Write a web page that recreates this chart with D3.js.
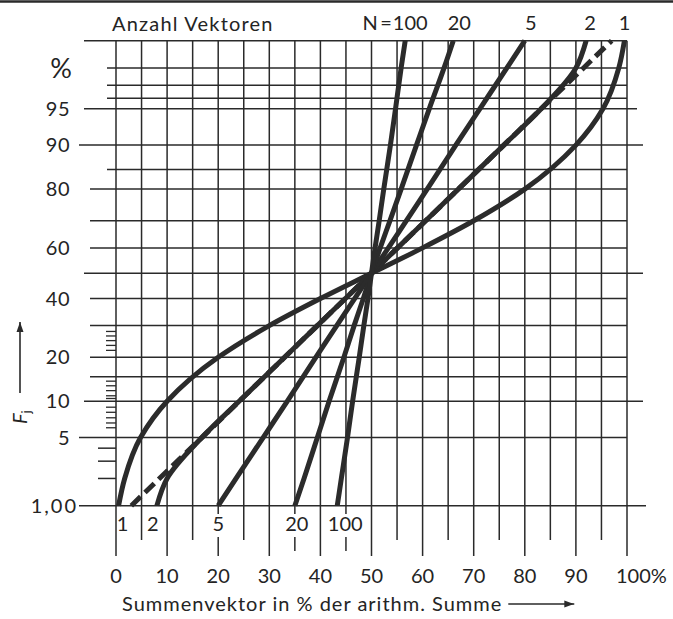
<!DOCTYPE html>
<html>
<head>
<meta charset="utf-8">
<script src="https://cdn.jsdelivr.net/npm/d3@7"></script>
<style>
  html, body { margin: 0; padding: 0; background: #ffffff; }
  svg { display: block; }
  text { font-family: Lato, "Noto Sans", "DejaVu Sans", sans-serif; fill: #242424; }
</style>
</head>
<body>
<svg id="chart" width="673" height="619"></svg>
<script>
// Cumulative frequency F_j (%) at which every curve is given
const freqLevels = [1, 2, 5, 10, 20, 30, 40, 50, 60, 70, 80, 90, 95, 98, 99];

// Summenvektor in % der arithmetischen Summe, one list per number of vectors N
const vectorCounts = ["1", "2", "5", "20", "100"];
const curveN1   = [0.5, 1.7, 4.8, 10, 20, 30, 40, 50, 60, 70, 80, 90, 95.3, 98.4, 99.5];
const curveN2   = [8, 10, 16.8, 24.1, 33, 39.4, 44.9, 50, 55.1, 60.6, 67, 75.9, 83.2, 90, 92];
const curveN5   = [20, 23.5, 28.8, 33.5, 39.1, 43.2, 46.7, 50, 53.3, 56.8, 60.9, 66.5, 71.2, 76.5, 80];
const curveN20  = [35, 36.8, 39.4, 41.7, 44.6, 46.6, 48.4, 50, 51.7, 53.6, 55.8, 58.8, 61.3, 64.2, 66];
const curveN100 = [43.3, 44.1, 45.3, 46.3, 47.6, 48.5, 49.3, 50, 50.7, 51.5, 52.4, 53.7, 54.7, 55.8, 56.6];
// straight dashed line (Gaussian distribution for comparison)
const curveNormal = [3, 8.5, 16.8, 24.1, 33, 39.4, 44.9, 50, 55.1, 60.6, 67, 75.9, 83.2, 91.5, 97];

// Axis ticks and grid levels
const xTickValues = [0, 10, 20, 30, 40, 50, 60, 70, 80, 90, 100];
const xGridValues = [0, 5, 10, 15, 20, 25, 30, 35, 40, 45, 50, 55, 60, 65, 70, 75, 80, 85, 90, 95, 100];
const yTickValues = [1, 5, 10, 20, 40, 60, 80, 90, 95];
const yTickLabels = ["1,00", "5", "10", "20", "40", "60", "80", "90", "95"];
const yGridValues = [1, 5, 10, 15, 20, 30, 40, 50, 60, 70, 80, 85, 90, 95, 96, 97, 98, 99];
const yShortTicks = [2, 3, 4];
const yCombTicks = [6.1, 6.7, 7.4, 8.2, 9, 10.5, 11, 12, 13, 14, 22, 23.5, 25, 26.5, 28];

// Inverse of the standard normal distribution (Acklam's rational approximation)
function probit(p) {
  const a = [-39.69683028665376, 220.9460984245205, -275.9285104469687, 138.3577518672690, -30.66479806614716, 2.506628277459239];
  const b = [-54.47609879822406, 161.5858368580409, -155.6989798598866, 66.80131188771972, -13.28068155288572];
  const c = [-0.007784894002430293, -0.3223964580411365, -2.400758276902440, -2.549732539343734, 4.374664141464968, 2.938163982698783];
  const d = [0.007784695709041462, 0.3224671290700398, 2.445134137142996, 3.754408661907416];
  const pl = 0.02425;
  let q, r;
  if (p < pl) {
    q = Math.sqrt(-2 * Math.log(p));
    return (((((c[0]*q + c[1])*q + c[2])*q + c[3])*q + c[4])*q + c[5]) / ((((d[0]*q + d[1])*q + d[2])*q + d[3])*q + 1);
  }
  if (p > 1 - pl) {
    q = Math.sqrt(-2 * Math.log(1 - p));
    return -(((((c[0]*q + c[1])*q + c[2])*q + c[3])*q + c[4])*q + c[5]) / ((((d[0]*q + d[1])*q + d[2])*q + d[3])*q + 1);
  }
  q = p - 0.5; r = q * q;
  return (((((a[0]*r + a[1])*r + a[2])*r + a[3])*r + a[4])*r + a[5])*q / (((((b[0]*r + b[1])*r + b[2])*r + b[3])*r + b[4])*r + 1);
}

const svg = d3.select("#chart");
const ink = "#2a2a2a";

// x: linear percent scale; y: probability (normal) scale
const x = d3.scaleLinear().domain([0, 100]).range([116, 627]);
const zScale = d3.scaleLinear().domain([probit(0.01), probit(0.99)]).range([505.7, 40.7]);
const y = F => zScale(probit(F / 100));

const yTop = y(99);

// heavy rule across the head of the page
svg.append("line")
  .attr("x1", 0).attr("x2", 673).attr("y1", 1.5).attr("y2", 1.5)
  .attr("stroke", ink).attr("stroke-width", 2.6);

const grid = svg.append("g").attr("stroke", ink).attr("stroke-width", 1.5);

// how far each horizontal line reaches left of the 0 line / right of the 100 line
function leftOverhang(F) {
  if (F === 1 || F === 5 || F === 90) return 37;
  if (F === 10 || F === 50 || F === 95 || F === 99) return 32;
  if (F === 85 || F === 96 || F === 97 || F === 98) return 9;
  return 26;
}
function rightOverhang(F) {
  if (F === 1) return 19;
  if (F === 50 || F === 90 || F === 10) return 16;
  if (F === 95) return 10;
  return 0;
}

grid.selectAll("line.h").data(yGridValues).join("line")
  .attr("class", "h")
  .attr("x1", F => x(0) - leftOverhang(F))
  .attr("x2", F => x(100) + rightOverhang(F))
  .attr("y1", F => y(F)).attr("y2", F => y(F));

// short lines at 2, 3, 4 % left of the grid
grid.selectAll("line.s").data(yShortTicks).join("line")
  .attr("class", "s")
  .attr("x1", x(0) - 18).attr("x2", x(0))
  .attr("y1", F => y(F)).attr("y2", F => y(F));

// fine comb ticks on the left edge
grid.selectAll("line.c").data(yCombTicks).join("line")
  .attr("class", "c")
  .attr("stroke-width", 1.3)
  .attr("x1", x(0) - 10).attr("x2", x(0))
  .attr("y1", F => y(F)).attr("y2", F => y(F));

// bottom labels naming the curves, placed in the gaps between grid lines
const curves = [curveN1, curveN2, curveN5, curveN20, curveN100];
const curveStarts = curves.map(c => c[0]);
const curveEnds = curves.map(c => c[c.length - 1]);
const bottomNudge = [4, -4, 0, 2, 8];
const bottomLabelX = curveStarts.map((v, i) => x(v) + bottomNudge[i]);

// vertical grid lines, running on below the 1 % line; broken where a curve name sits on them
xGridValues.forEach(v => {
  const px = x(v);
  const end = v % 10 === 0 ? 556 : 540;
  const underLabel = bottomLabelX.some(lx => Math.abs(lx - px) < 4.5);
  if (underLabel) {
    grid.append("line").attr("x1", px).attr("x2", px).attr("y1", yTop).attr("y2", 514);
    grid.append("line").attr("x1", px).attr("x2", px).attr("y1", 537).attr("y2", v % 10 === 0 ? 556 : 551);
  } else {
    grid.append("line").attr("x1", px).attr("x2", px).attr("y1", yTop).attr("y2", end);
  }
});

// curves
const line = d3.line()
  .x(d => x(d[0]))
  .y(d => y(d[1]))
  .curve(d3.curveMonotoneY);

const curveG = svg.append("g").attr("fill", "none").attr("stroke", "#2b2b2b").attr("stroke-width", 5);

curveG.append("path")
  .attr("d", line(curveNormal.map((v, i) => [v, freqLevels[i]])))
  .attr("stroke-dasharray", "13,6");

curves.forEach(c => {
  curveG.append("path").attr("d", line(c.map((v, i) => [v, freqLevels[i]])));
});

// labels
const fs = 20;

// y tick labels
svg.selectAll("text.yl").data(yTickValues).join("text")
  .attr("class", "yl")
  .attr("x", F => F === 1 ? 78 : 70)
  .attr("y", F => y(F) + 7)
  .attr("text-anchor", "end")
  .attr("font-size", fs)
  .attr("letter-spacing", F => F === 1 ? 2 : 0.5)
  .text((F, i) => yTickLabels[i]);

svg.append("text").attr("x", 61).attr("y", 78).attr("text-anchor", "middle")
  .attr("font-size", 27).text("%");

// x tick labels
svg.selectAll("text.xl").data(xTickValues).join("text")
  .attr("class", "xl")
  .attr("x", v => v === 100 ? x(v) - 11 : x(v))
  .attr("y", 583)
  .attr("text-anchor", v => v === 100 ? "start" : "middle")
  .attr("font-size", fs)
  .text(v => v === 100 ? "100%" : v);

// curve names at the foot
svg.selectAll("text.bl").data(vectorCounts).join("text")
  .attr("class", "bl")
  .attr("x", (n, i) => bottomLabelX[i])
  .attr("y", 531)
  .attr("text-anchor", "middle")
  .attr("font-size", 20)
  .text(n => n);

// curve names at the head
const topNudge = [0, 4, 6, 6, 5];
const topLabels = svg.selectAll("text.tl").data(vectorCounts).join("text")
  .attr("class", "tl")
  .attr("x", (n, i) => x(curveEnds[i]) + topNudge[i])
  .attr("y", 30)
  .attr("text-anchor", "middle")
  .attr("font-size", fs)
  .text(n => n);

const hundredBox = topLabels.filter(n => n === "100").node().getBBox();
svg.append("text")
  .attr("x", hundredBox.x - 1).attr("y", 30)
  .attr("text-anchor", "end")
  .attr("font-size", fs)
  .text("N\u2009=");

svg.append("text").attr("x", 112).attr("y", 31).attr("font-size", fs)
  .attr("letter-spacing", 1.2).text("Anzahl Vektoren");

// y-axis title F_j with arrow
const fj = svg.append("text")
  .attr("transform", "translate(27,424) rotate(-90)")
  .attr("font-size", 20);
fj.append("tspan").attr("font-style", "italic").text("F");
fj.append("tspan").attr("font-size", 13).attr("dy", 4).text("j");

svg.append("defs").append("marker")
  .attr("id", "arrow").attr("viewBox", "0 0 10 10")
  .attr("refX", 10).attr("refY", 5)
  .attr("markerWidth", 10).attr("markerHeight", 10)
  .attr("markerUnits", "userSpaceOnUse")
  .attr("orient", "auto")
  .append("path").attr("d", "M0,1.5 L10,5 L0,8.5 Z").attr("fill", ink);

svg.append("line")
  .attr("x1", 20).attr("x2", 20).attr("y1", 393).attr("y2", 322)
  .attr("stroke", ink).attr("stroke-width", 1.6)
  .attr("marker-end", "url(#arrow)");

// x-axis title with arrow
const title = svg.append("text").attr("x", 122).attr("y", 611).attr("font-size", fs)
  .attr("letter-spacing", 1)
  .text("Summenvektor in % der arithm. Summe");
const tb = title.node().getBBox();
svg.append("line")
  .attr("x1", tb.x + tb.width + 6).attr("x2", tb.x + tb.width + 72)
  .attr("y1", 604).attr("y2", 604)
  .attr("stroke", ink).attr("stroke-width", 1.6)
  .attr("marker-end", "url(#arrow)");
</script>
</body>
</html>
